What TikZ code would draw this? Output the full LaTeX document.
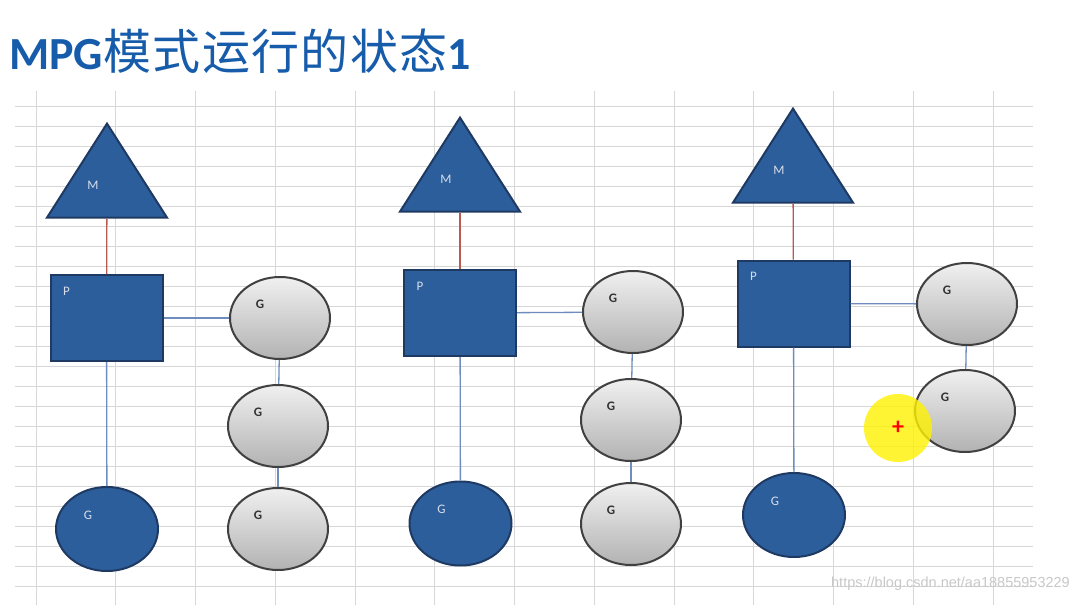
\documentclass[tikz,border=0pt]{standalone}
\usepackage{fontspec}
\setmainfont{Carlito}
\newfontfamily\cjk[LetterSpace=3]{Noto Sans CJK SC}
\newfontfamily\urlfont{Liberation Sans}
\usepackage{tikz}
\usetikzlibrary{shapes,arrows}
\usetikzlibrary{positioning}
\usetikzlibrary{calc}
\definecolor{titleblue}{RGB}{22,92,170}
\definecolor{gblue}{RGB}{44,94,156}
\definecolor{gborder}{RGB}{30,58,98}
\definecolor{gtop}{RGB}{240,240,240}
\definecolor{gbottom}{RGB}{178,178,178}
\definecolor{gedge}{RGB}{64,64,64}
\definecolor{linkblue}{RGB}{110,140,190}
\definecolor{linkred}{RGB}{185,90,80}
\definecolor{gridgray}{RGB}{215,215,215}
\definecolor{lightlbl}{RGB}{215,222,235}
\definecolor{wmgray}{RGB}{200,200,200}
\tikzstyle{lbllight} = [text=lightlbl, font=\fontsize{13}{13}\selectfont, inner sep=0pt]
\tikzstyle{lbldark} = [text=black!80, font=\bfseries\fontsize{13}{13}\selectfont, inner sep=0pt]
\tikzstyle{mthread} = [draw=gborder, fill=gblue, line width=2pt, isosceles triangle, isosceles triangle stretches, shape border rotate=90, minimum width=120pt, minimum height=94pt, inner sep=0pt, anchor=apex, label={[lbllight, xshift=-14pt, yshift=-1pt]center:M}]
\tikzstyle{proc} = [draw=gborder, fill=gblue, line width=2pt, rectangle, minimum width=112pt, minimum height=86pt, inner sep=0pt, label={[lbllight, xshift=-40pt, yshift=27pt]center:P}]
\tikzstyle{gidle} = [draw=gedge, top color=gtop, bottom color=gbottom, line width=2pt, ellipse, minimum width=100pt, minimum height=82pt, inner sep=0pt, label={[lbldark, xshift=-20pt, yshift=14pt]center:G}]
\tikzstyle{grun} = [draw=gborder, fill=gblue, line width=2pt, ellipse, minimum width=102pt, minimum height=84pt, inner sep=0pt, label={[lbllight, xshift=-19pt, yshift=14pt]center:G}]
\tikzstyle{mlink} = [draw=linkred, line width=1.3pt]
\tikzstyle{plink} = [draw=linkblue, line width=1.3pt]
\tikzstyle{gridline} = [draw=gridgray, line width=1pt]

\begin{document}
\begin{tikzpicture}[x=1pt, y=-1pt]
% Sheet
\fill [white] (0,0) rectangle (1080,605);
\useasboundingbox (0,0) rectangle (1080,605);
\foreach \k in {0,...,24}
  \draw [gridline] (15,106.7+20*\k) -- (1033,106.7+20*\k);
\foreach \k in {0,...,12}
  \draw [gridline] (36+79.75*\k,91) -- (36+79.75*\k,605);

% Title
\node [anchor=base west, text=titleblue, inner sep=0pt] (title) at (9,69)
  {\fontsize{46}{50}\selectfont\bfseries MPG{\mdseries\cjk\fontsize{48}{50}\selectfont 模式运行的状态}1};

% Blocks
\node [mthread] (m1) at (107,121) {};
\node [proc] (p1) at (106.5,318) {};
\node [gidle] (g11) at (280,318) {};
\node [gidle] (g12) at (278,426) {};
\node [gidle] (g13) at (278,529) {};
\node [grun] (b1) at (107,529) {};

\node [mthread] (m2) at (460,115) {};
\node [proc] (p2) at (460,313) {};
\node [gidle] (g21) at (633,312) {};
\node [gidle] (g22) at (631,420) {};
\node [gidle] (g23) at (631,524) {};
\node [grun] (b2) at (460.5,523.5) {};

\node [mthread] (m3) at (793,106) {};
\node [proc] (p3) at (793.5,303.5) {};
\node [gidle] (g31) at (967,304) {};
\node [gidle] (g32) at (965,411) {};
\node [grun] (b3) at (794,515) {};

% Links
\draw [mlink] (m1) -- (p1);
\draw [plink] (p1) -- (g11);
\draw [plink] (g11) -- (g12);
\draw [plink] (g12) -- (g13);
\draw [plink] (p1) -- (b1);

\draw [mlink] (m2) -- (p2);
\draw [plink] (p2) -- (g21);
\draw [plink] (g21) -- (g22);
\draw [plink] (g22) -- (g23);
\draw [plink] (p2) -- (b2);

\draw [mlink] (m3) -- (p3);
\draw [plink] (p3) -- (g31);
\draw [plink] (g31) -- (g32);
\draw [plink] (p3) -- (b3);

% Pointer spot and watermark
\node [circle, minimum size=68pt, inner sep=0pt, fill=yellow, fill opacity=0.8, text opacity=1, text=red, font=\bfseries\fontsize{24}{24}\selectfont] (spot) at (898,428) {+};
\node [anchor=east, text=wmgray, inner sep=0pt, font=\urlfont\fontsize{14.5}{15}\selectfont] (wm) at (1070,584) {https://blog.csdn.net/aa18855953229};
\end{tikzpicture}
\end{document}
